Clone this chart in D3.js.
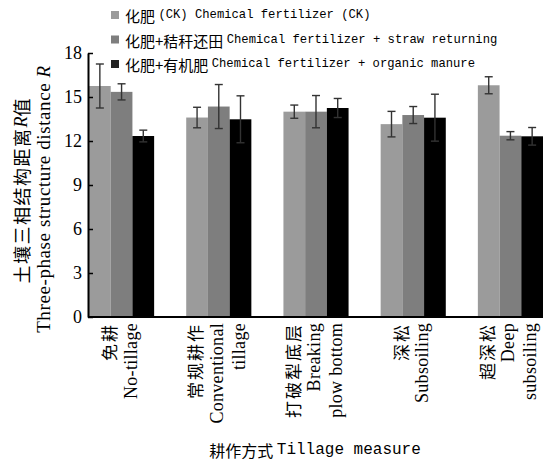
<!DOCTYPE html>
<html>
<head>
<meta charset="utf-8">
<script src="https://cdn.jsdelivr.net/npm/d3@7"></script>
<style>
  body { margin: 0; background: #fff; }
  svg { display: block; }
</style>
</head>
<body>
<svg id="chart"></svg>
<script>
// Data
const categoriesCn = ["免耕", "常规耕作", "打破犁底层", "深松", "超深松"];
const categoriesEn = [["No-tillage"], ["Conventional", "tillage"], ["Breaking", "plow bottom"], ["Subsoiling"], ["Deep", "subsoiling"]];
const seriesCn = ["化肥", "化肥+秸秆还田", "化肥+有机肥"];
const seriesEn = ["(CK) Chemical fertilizer (CK)", "Chemical fertilizer + straw returning", "Chemical fertilizer + organic manure"];
const ckValues = [15.75, 13.6, 14.0, 13.15, 15.8];
const ckErrors = [1.5, 0.7, 0.45, 0.87, 0.58];
const strawValues = [15.35, 14.35, 14.0, 13.77, 12.36];
const strawErrors = [0.55, 1.5, 1.1, 0.58, 0.28];
const organicValues = [12.34, 13.48, 14.25, 13.59, 12.32];
const organicErrors = [0.4, 1.6, 0.65, 1.6, 0.6];
const yTicks = [0, 3, 6, 9, 12, 15, 18];
const colors = ["#9b9b9b", "#7e7e7e", "#000000"];

const width = 555, height = 462;
const margin = { left: 88, right: 12, top: 53, bottom: 145 };

const svg = d3.select("#chart").attr("width", width).attr("height", height);

const x = d3.scaleBand()
    .domain(categoriesCn)
    .range([margin.left + 1, width - margin.right])
    .paddingInner(0.33)
    .paddingOuter(0);

const xSub = d3.scaleBand()
    .domain([0, 1, 2])
    .range([0, x.bandwidth()]);

const y = d3.scaleLinear()
    .domain([0, 18])
    .range([height - margin.bottom, margin.top]);

// Build rows for each bar
const values = [ckValues, strawValues, organicValues];
const errors = [ckErrors, strawErrors, organicErrors];
const bars = [];
categoriesCn.forEach((c, i) => {
    values.forEach((s, j) => bars.push({ cat: c, series: j, value: s[i], err: errors[j][i] }));
});

// Bars
svg.append("g").selectAll("rect")
    .data(bars)
    .enter()
    .append("rect")
    .attr("x", d => x(d.cat) + xSub(d.series))
    .attr("y", d => y(d.value))
    .attr("width", xSub.bandwidth())
    .attr("height", d => y(0) - y(d.value))
    .attr("fill", d => colors[d.series]);

// Error bars
const eb = svg.append("g")
    .attr("stroke", "#333")
    .attr("stroke-width", 1.4)
    .selectAll("g")
    .data(bars)
    .enter()
    .append("g")
    .attr("transform", d => `translate(${x(d.cat) + xSub(d.series) + xSub.bandwidth() / 2},0)`);

eb.append("line")
    .attr("y1", d => y(d.value + d.err))
    .attr("y2", d => y(d.value - d.err));
eb.append("line")
    .attr("x1", -4).attr("x2", 4)
    .attr("y1", d => y(d.value + d.err))
    .attr("y2", d => y(d.value + d.err));
eb.append("line")
    .attr("x1", -4).attr("x2", 4)
    .attr("y1", d => y(d.value - d.err))
    .attr("y2", d => y(d.value - d.err));

// Axes
const yAxis = svg.append("g")
    .attr("transform", `translate(${margin.left},0)`)
    .call(d3.axisLeft(y).tickValues(yTicks).tickSizeInner(-5).tickSizeOuter(0).tickPadding(6));
yAxis.select(".domain").attr("stroke-width", 2);
yAxis.selectAll(".tick line").attr("stroke-width", 1.5);
yAxis.selectAll(".tick text")
    .attr("font-family", "Liberation Serif, serif")
    .attr("font-size", 18)
    .attr("fill", "#000");

const xAxis = svg.append("g")
    .attr("transform", `translate(0,${y(0)})`)
    .call(d3.axisBottom(x).tickSize(0).tickFormat(""));
xAxis.select(".domain")
    .attr("d", `M${margin.left},0H${width - margin.right}`)
    .attr("stroke-width", 2);

// Category labels, rotated
const labelTop = y(0) + 6;
const lineGap = 22;
categoriesCn.forEach((c, i) => {
    const lines = [{ t: c, cn: true }].concat(categoriesEn[i].map(t => ({ t: t, cn: false })));
    const cx = x(c) + x.bandwidth() / 2 - 2;
    lines.forEach((l, k) => {
        const lx = cx + (k - (lines.length - 1) / 2) * lineGap;
        svg.append("text")
            .attr("transform", `translate(${lx},${labelTop}) rotate(-90)`)
            .attr("text-anchor", "end")
            .attr("dominant-baseline", "central")
            .attr("font-family", l.cn ? "Noto Sans CJK SC" : "Liberation Serif, serif")
            .attr("font-size", l.cn ? 17 : 18)
            .attr("letter-spacing", l.cn ? 2 : 0.3)
            .text(l.t);
    });
});

// X title
const xt = svg.append("text")
    .attr("x", 315)
    .attr("y", 450)
    .attr("text-anchor", "middle")
    .attr("dominant-baseline", "central");
xt.append("tspan").attr("font-family", "Noto Sans CJK SC").attr("font-size", 16).text("耕作方式 ");
xt.append("tspan").attr("font-family", "Liberation Mono, monospace").attr("font-size", 16).text("Tillage measure");

// Y title, two rotated lines
const yt1 = svg.append("text")
    .attr("transform", `translate(21,191) rotate(-90)`)
    .attr("text-anchor", "middle")
    .attr("dominant-baseline", "central")
    .attr("font-size", 18);
yt1.append("tspan").attr("font-family", "Noto Sans CJK SC").attr("letter-spacing", 1.5).text("土壤三相结构距离");
yt1.append("tspan").attr("font-family", "Liberation Serif, serif").attr("font-style", "italic").text("R");
yt1.append("tspan").attr("font-family", "Noto Sans CJK SC").text("值");

const yt2 = svg.append("text")
    .attr("transform", `translate(43,199) rotate(-90)`)
    .attr("text-anchor", "middle")
    .attr("dominant-baseline", "central")
    .attr("font-family", "Liberation Serif, serif")
    .attr("font-size", 19)
    .attr("letter-spacing", 0.6);
yt2.append("tspan").text("Three-phase structure distance ");
yt2.append("tspan").attr("font-style", "italic").text("R");

// Legend
const legend = svg.append("g").selectAll("g")
    .data(seriesCn)
    .enter()
    .append("g")
    .attr("transform", (d, i) => `translate(111,${15 + i * 24.5})`);

legend.append("rect")
    .attr("x", 0).attr("y", -4)
    .attr("width", 8).attr("height", 8)
    .attr("fill", (d, i) => i === 2 ? "#222" : colors[i]);

const lt = legend.append("text")
    .attr("x", 14)
    .attr("dominant-baseline", "central");
lt.append("tspan").attr("font-family", "Noto Sans CJK SC").attr("font-size", 15).text(d => d + " ");
lt.append("tspan").attr("font-family", "Liberation Mono, monospace").attr("font-size", 12.2).text((d, i) => seriesEn[i]);
</script>
</body>
</html>
